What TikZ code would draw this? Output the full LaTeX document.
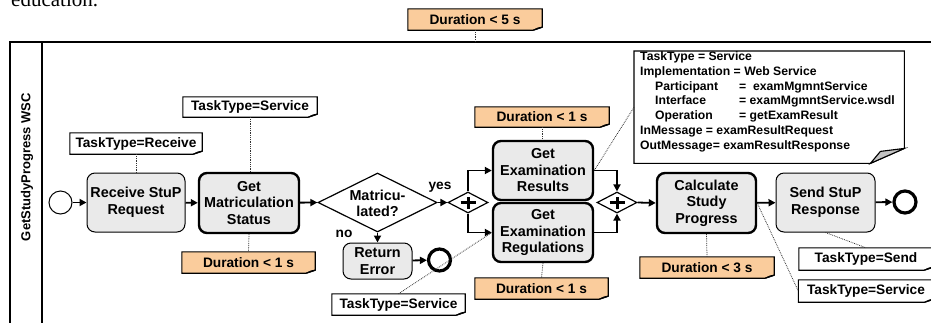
\documentclass[tikz,border=0pt]{standalone}
\usepackage{fontspec}
\setmainfont{Liberation Sans}
\newfontfamily\eduserif{Liberation Serif}
\usetikzlibrary{arrows.meta,shapes.geometric,backgrounds,calc}
\definecolor{orangefill}{RGB}{250,204,156}
\definecolor{taskgray}{RGB}{234,234,234}
\definecolor{foldgray}{RGB}{195,195,195}
\newcommand\taskfnt{\fontsize{14.4}{16.5}\selectfont\bfseries}
\newcommand\annfnt{\fontsize{13.7}{15}\selectfont\bfseries}
\newcommand\notefnt{\fontsize{12.2}{14.8}\selectfont\bfseries}
\newcommand\lanefnt{\fontsize{13}{15}\selectfont\bfseries}
\newcommand\annot[6]{%
  \node[anntext, minimum width=#3, minimum height=#4] (#1) at (#2) {#6};
  \begin{scope}[on background layer]
    \draw[annline, fill=#5] (#1.north west) -- (#1.north east) -- ([yshift=3pt]#1.south east)
      -- ([xshift=-9pt]#1.south east) -- (#1.south west) -- cycle;
    \filldraw[annline, fill=foldgray] ([xshift=-9pt]#1.south east) -- ([xshift=-4pt,yshift=2.2pt]#1.south east)
      -- ([yshift=3pt]#1.south east) -- cycle;
  \end{scope}
}
\begin{document}
\begin{tikzpicture}[x=1pt,y=-1pt,
  task/.style={draw, rounded corners=8pt, fill=taskgray, align=center, font=\taskfnt,
    inner sep=0pt, line width=1pt},
  thicktask/.style={task, line width=2.4pt},
  gate/.style={diamond, draw, line width=1.2pt, fill=white, minimum width=40pt, minimum height=21pt, inner sep=0pt},
  anntext/.style={inner sep=0pt, font=\annfnt},
  annline/.style={line width=1.1pt},
  flow/.style={line width=1.8pt, -{Triangle[length=7pt,width=7pt]}},
  assoc/.style={densely dotted, line width=0.8pt, black!80},
  plus/.style={line width=3pt}
]
\useasboundingbox (0,0) rectangle (931,322);

% page text above the figure
\node[font=\eduserif\fontsize{21}{24}\selectfont, anchor=base west, inner sep=0pt] (edu) at (11,6) {education.};

% pool
\coordinate (pooltl) at (10,42);
\coordinate (pooltr) at (935,42);
\coordinate (poolbl) at (10,326);
\coordinate (lanetop) at (42,42);
\coordinate (lanebot) at (42,326);
\draw[line width=1.3pt] (poolbl) -- (pooltl) -- (pooltr);
\draw[line width=1.3pt] (lanetop) -- (lanebot);
\node[rotate=90, font=\lanefnt] (lane) at (27,167) {GetStudyProgress WSC};

% events and tasks
\node[circle, draw, line width=1pt, fill=white, minimum size=23pt, inner sep=0pt] (start) at (60.5,202.5) {};
\node[task, minimum width=98pt, minimum height=59pt] (recv) at (136,202.5) {Receive StuP\\Request};
\node[thicktask, minimum width=100pt, minimum height=60pt] (getmat) at (249,203) {Get\\Matriculation\\Status};
\node[diamond, draw, line width=1.2pt, fill=white, minimum width=119pt, minimum height=59pt, inner sep=0pt] (mat) at (377.5,202.5) {};
\node[font=\taskfnt, align=center, inner sep=0pt] (matlbl) at (377.5,203.5) {Matricu-\\lated?};
\node[task, minimum width=69pt, minimum height=36pt] (reterr) at (377.5,261) {Return\\Error};
\node[circle, draw, line width=3.2pt, fill=white, minimum size=22pt, inner sep=0pt] (errend) at (439.5,260) {};

\node[gate] (split) at (468,202.5) {};
\node[gate] (join) at (617,202.5) {};
\node[thicktask, minimum width=100pt, minimum height=59pt] (res) at (543,170.5) {Get\\Examination\\Results};
\node[thicktask, minimum width=100pt, minimum height=59pt] (reg) at (543,232.5) {Get\\Examination\\Regulations};
\node[thicktask, minimum width=99pt, minimum height=60pt] (calc) at (706.5,203) {Calculate\\Study\\Progress};
\node[task, minimum width=99pt, minimum height=59pt] (send) at (825.5,202.5) {Send StuP\\Response};
\node[circle, draw, line width=3.2pt, fill=white, minimum size=22pt, inner sep=0pt] (endev) at (905,202) {};

% plus signs in gateways
\foreach \g in {split,join}{
  \draw[plus] ([xshift=-7.5pt]\g.center) -- ([xshift=7.5pt]\g.center);
  \draw[plus] ([yshift=-6pt]\g.center) -- ([yshift=6pt]\g.center);
}

% sequence flows
\draw[flow] (start) -- (recv);
\draw[flow] (recv) -- (getmat);
\draw[flow] (getmat) -- (mat.west);
\draw[flow] (mat.east) -- (split.west);
\draw[flow] (mat.south) -- (reterr.north);
\draw[flow] (reterr) -- (errend);
\draw[flow] (split.north) |- (res.west);
\draw[flow] (split.south) |- (reg.west);
\draw[flow] (res.east) -| (join.north);
\draw[flow] (reg.east) -| (join.south);
\draw[flow] (join.east) -- (calc.west);
\draw[flow] (calc) -- (send);
\draw[flow] (send) -- (endev);

\node[font=\annfnt, inner sep=0pt] (yes) at (440,187) {yes};
\node[font=\annfnt, inner sep=0pt] (no) at (344,234) {no};

% annotations
\annot{dur5}{475,19.5}{134pt}{21pt}{orangefill}{Duration < 5 s}
\annot{recvT}{136,143.5}{132pt}{21pt}{white}{TaskType=Receive}
\annot{srvA}{250,107}{134pt}{20pt}{white}{TaskType=Service}
\annot{durM}{248.5,262.5}{133pt}{21pt}{orangefill}{Duration < 1 s}
\annot{durR}{542,117}{134pt}{20pt}{orangefill}{Duration < 1 s}
\annot{durG}{541.5,288.5}{133pt}{21pt}{orangefill}{Duration < 1 s}
\annot{srvB}{398.5,304.5}{133pt}{21pt}{white}{TaskType=Service}
\annot{dur3}{707,267.5}{134pt}{21pt}{orangefill}{Duration < 3 s}
\annot{sendT}{866,259}{134pt}{22pt}{white}{TaskType=Send}
\annot{srvC}{866,291}{135pt}{22pt}{white}{TaskType=Service}

% big note
\node[anchor=north west, inner sep=0pt, minimum width=270pt, minimum height=112pt] (note) at (634,51) {};
\node[anchor=north west, inner sep=0pt, align=left, font=\notefnt] (notetxt) at (640,51.5) {%
TaskType = Service\\
Implementation = Web Service\\
\hspace*{15pt}\makebox[84pt][l]{Participant}= \ examMgmntService\\
\hspace*{15pt}\makebox[84pt][l]{Interface}= examMgmntService.wsdl\\
\hspace*{15pt}\makebox[84pt][l]{Operation}= getExamResult\\
InMessage = examResultRequest\\
OutMessage= examResultResponse};
\begin{scope}[on background layer]
  \draw[annline, fill=white] (note.north west) -- (note.north east) -- ([yshift=15pt]note.south east)
    -- ([xshift=-34pt]note.south east) -- (note.south west) -- cycle;
  \filldraw[annline, fill=foldgray] ([xshift=-34pt]note.south east) -- ([xshift=-24pt,yshift=12pt]note.south east)
    -- ([yshift=15pt]note.south east) -- cycle;
\end{scope}

% associations
\coordinate (pooltop5) at (dur5.south |- pooltl);
\draw[assoc] (dur5.south) -- (pooltop5);
\draw[assoc] (recvT.south) -- (recvT.south |- recv.north);
\draw[assoc] (srvA.south) -- (srvA.south |- getmat.north);
\draw[assoc] (getmat.south) -- (durM.north);
\draw[assoc] (durR.south) -- (durR.south |- res.north);
\draw[assoc] (note.west) -- (res.east);
\draw[assoc] (reg.south) -- (durG.north);
\draw[assoc] (srvB.north) -- (reg.west);
\draw[assoc] (calc.south) -- (dur3.north);
\draw[assoc] (send.south) -- (sendT.north);
\draw[assoc] (calc.east) -- (srvC.west);
\end{tikzpicture}
\end{document}
